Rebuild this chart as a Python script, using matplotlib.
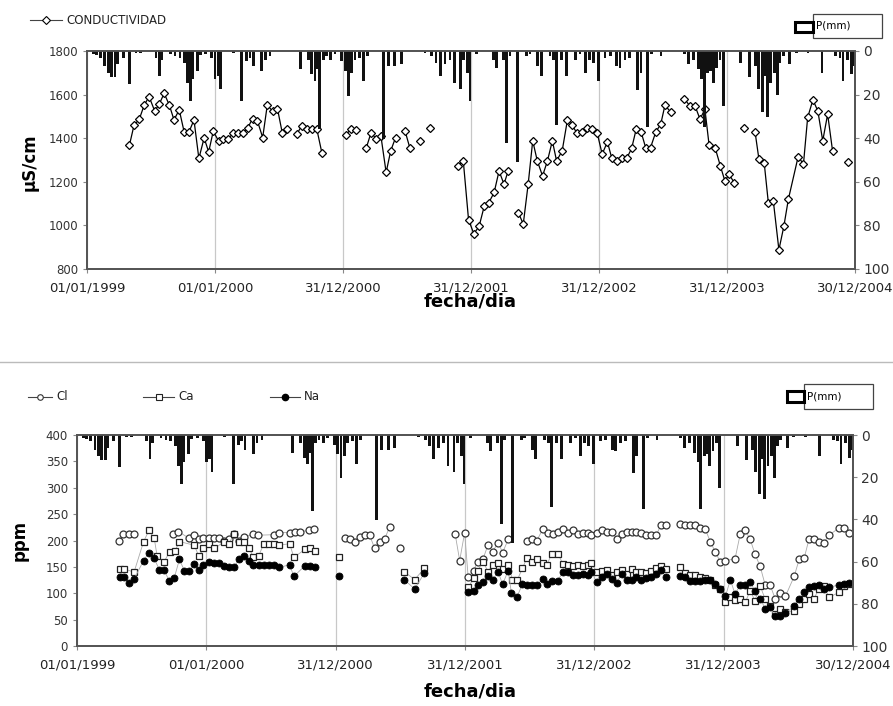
import numpy as np
import matplotlib
matplotlib.use('Agg')
import matplotlib.pyplot as plt
from matplotlib.patches import Rectangle
from matplotlib.lines import Line2D

nan = np.nan

# x axis = days since 01/01/1999
tick_days = [0, 365, 730, 1095, 1460, 1825, 2190]
tick_labels = ['01/01/1999', '01/01/2000', '31/12/2000', '31/12/2001',
               '31/12/2002', '31/12/2003', '30/12/2004']

# conductividad (uS/cm), nan = hueco en la serie
cond_day = [121, 134, 149, 163, 177, 193, 206, 220, 235, 248, 263, 277, 291, 305, 319, 334, 347, 360, 375, 389,
            403, 417, 432, 446, 459, 472, 486, 501, 514, 529, 543, 557, 571, nan,
            598, 612, 627, 641, 655, 670, nan,
            738, 752, 766, nan,
            796, 810, 824, 838, 853, 866, 880, nan,
            907, 921, nan, 950, nan, 978, nan,
            1059, 1073, 1088, 1103, 1118, 1133, 1146, 1161, 1175, 1189, 1201, nan,
            1230, 1244, 1258, 1271, 1284, 1299, 1313, 1327, 1339, 1355, 1370, 1384, 1397, 1412, 1427, 1441,
            1455, 1469, 1484, 1496, 1510, 1525, 1540, 1553, 1566, 1580, 1593, 1607, 1622, 1636, 1648, 1664, nan,
            1703, 1719, 1734, 1748, 1762, 1774, 1791, 1806, 1819, 1831, 1846, nan,
            1874, nan,
            1905, 1916, 1931, 1943, 1957, 1973, 1987, 2000, 2028, 2043, 2055, 2070, 2084, 2098, 2112, 2126, nan,
            2169]
cond_val = [1368, 1459, 1487, 1551, 1591, 1525, 1556, 1606, 1551, 1484, 1530, 1429, 1429, 1484, 1307, 1401, 1337, 1432, 1388, 1398,
            1398, 1423, 1423, 1423, 1449, 1490, 1479, 1403, 1551, 1525, 1536, 1423, 1441, nan,
            1418, 1456, 1444, 1444, 1444, 1331, nan,
            1414, 1441, 1438, nan,
            1353, 1426, 1398, 1411, 1243, 1342, 1403, nan,
            1433, 1353, nan, 1388, nan, 1449, nan,
            1273, 1296, 1026, 962, 995, 1090, 1105, 1151, 1250, 1189, 1250, nan,
            1059, 1006, 1189, 1388, 1296, 1227, 1296, 1388, 1296, 1342, 1484, 1459, 1423, 1429, 1449, 1444,
            1423, 1327, 1383, 1311, 1296, 1311, 1311, 1353, 1441, 1429, 1357, 1357, 1429, 1464, 1551, 1521, nan,
            1582, 1548, 1548, 1487, 1533, 1368, 1357, 1273, 1204, 1235, 1194, nan,
            1449, nan,
            1429, 1304, 1288, 1102, 1113, 888, 995, 1120, 1316, 1281, 1495, 1576, 1525, 1388, 1510, 1342, nan,
            1292]

# precipitacion P(mm)
p_day = [18, 26, 39, 51, 61, 70, 80, 87, 104, 121, 140, 153, 197, 206, 214, 237, 251, 265, 279, 286,
         294, 301, 315, 324, 339, 356, 365, 375, 381, 417, 441, 455, 465, 474, 498, 508, 522, 609, 631, 641,
         650, 657, 664, 674, 683, 695, 707, 726, 736, 745, 755, 764, 777, 788, 799, 845, 859, 878, 897, 964,
         983, 995, 1007, 1021, 1035, 1047, 1064, 1073, 1085, 1092, 1111, 1159, 1168, 1187, 1197, 1206, 1228, 1254, 1263, 1285,
         1295, 1320, 1330, 1339, 1354, 1368, 1392, 1406, 1422, 1432, 1444, 1458, 1477, 1492, 1511, 1520, 1534, 1548, 1570, 1580,
         1599, 1610, 1637, 1703, 1715, 1729, 1743, 1753, 1760, 1770, 1779, 1786, 1795, 1805, 1814, 1864, 1890, 1906, 1914, 1926,
         1933, 1941, 1950, 1960, 1968, 1976, 1985, 2004, 2023, 2056, 2096, 2135, 2147, 2156, 2169, 2180, 2188]
p_mm = [1.5, 2, 3, 7, 10, 12, 12, 6, 3, 15, 1, 1, 3, 11.5, 4, 1.5, 2.3, 3, 5.3, 14.5,
        23, 13, 9, 2, 1.5, 3, 13, 11.5, 17.5, 0.8, 23, 4.6, 3, 7, 9, 4, 2.3, 8.4, 4, 10.7,
        13.7, 8.4, 36, 4, 2.3, 4, 1.5, 4.6, 9, 20.6, 10, 4, 3, 13.7, 2.3, 40.5, 7, 7, 6, 0.8,
        2.3, 5.3, 11.5, 6, 4, 14.5, 17.5, 4, 10, 23, 1.5, 4, 7.6, 4, 42, 2.3, 51, 2.3, 1.5, 7,
        11.5, 2.3, 4, 34, 4, 11.5, 4, 1.5, 10, 4, 5.3, 13.7, 3, 2.3, 7, 7.6, 4, 3, 18, 10,
        35, 1.5, 2.3, 1.5, 6, 4, 8.4, 13, 35, 10, 9, 14.5, 7.6, 4, 25, 5.3, 12, 7, 17.5, 28,
        11.5, 30.5, 14.5, 10, 20.3, 5.3, 2.3, 6, 1, 1, 10, 2.3, 3, 13.7, 4, 10.7, 7]

# Cl (ppm)
cl_day = [118, 131, 146, 161, nan,
          272, 286, 317, 331, 343, 357, 373, 386, 400, 414, 429, 443, 457, 472, 498, 511, 555, 571, 600, 614,
          629, 654, 669, nan,
          757, 771, 785, 799, 814, 826, 840, 854, 868, 882, nan, 912, nan,
          1067, 1080, 1094, 1104, 1119, 1131, 1146, 1160, 1173, 1189, 1201, 1217, nan,
          1269, 1283, 1298, 1314, 1330, 1342, 1357, 1371, 1385, 1400, 1414, 1427, 1441, 1452, 1467,
          1481, 1495, 1509, 1523, 1537, 1551, 1565, 1579, 1593, 1607, 1621, 1635, 1648, 1662, nan,
          1702, 1716, 1731, 1745, 1759, 1773, 1787, 1801, 1815, 1830, 1857, 1872, 1886, 1900, 1913,
          1928, 1942, 1956, 1970, 1984, 1999, 2024, 2038, 2052, 2066, 2080, 2094, 2108, 2122, 2151, 2165, 2179]
cl_val = [200, 213, 213, 213, nan,
          213, 217, 204, 211, 203, 204, 204, 204, 204, 200, 203, 213, 200, 206, 213, 210, 211, 215, 215, 217,
          217, 219, 221, nan,
          204, 203, 197, 206, 210, 210, 185, 197, 203, 225, nan, 185, nan,
          213, 162, 215, 130, 143, 160, 165, 192, 179, 196, 177, 202, nan,
          200, 203, 200, 221, 215, 213, 216, 221, 215, 219, 213, 215, 215, 211, 215,
          219, 217, 217, 203, 213, 216, 216, 217, 215, 211, 211, 210, 230, 229, nan,
          232, 229, 229, 230, 224, 222, 198, 179, 160, 162, 165, 213, 219, 202, 175,
          151, 116, 116, 90, 100, 94, 132, 164, 166, 203, 202, 198, 196, 210, 224, 224, 215]

# Ca (ppm)
ca_day = [120, 134, 161, 188, 203, 218, 226, 245, 262, 277, 289, 331, 344, 357, 373, 388, 414, 429, 443, 457,
          472, 486, 498, 513, 527, 542, 555, 571, 600, 612, 643, 657, 671, nan, 738, nan,
          923, 953, 980, nan,
          1104, 1119, 1131, 1146, 1160, 1173, 1189, 1201, 1217, 1229, 1243, 1257, 1269, 1283, 1298, 1314,
          1326, 1340, 1357, 1371, 1385, 1400, 1414, 1427, 1441, 1452, 1467, 1481, 1495, 1509, 1523, 1537,
          1551, 1565, 1579, 1593, 1607, 1621, 1635, 1648, 1662, nan,
          1702, 1716, 1731, 1745, 1759, 1773, 1787, 1801, 1815, 1830, 1844, 1857, 1872, 1886, 1900, 1913,
          1928, 1942, 1956, 1970, 1984, 1999, 2024, 2038, 2052, 2066, 2080, 2094, 2108, 2122, 2151, 2165, 2179]
ca_val = [146, 146, 140, 198, 219, 204, 171, 159, 179, 181, 198, 191, 170, 185, 194, 185, 197, 194, 213, 198,
          197, 185, 168, 171, 194, 194, 194, 191, 194, 168, 183, 185, 181, nan, 168, nan,
          141, 126, 147, nan,
          111, 128, 143, 160, 141, 154, 157, 146, 154, 126, 126, 147, 166, 160, 164, 157,
          154, 175, 175, 156, 154, 151, 154, 151, 154, 157, 140, 143, 145, 135, 140, 145,
          137, 146, 141, 140, 138, 143, 147, 152, 146, nan,
          149, 138, 135, 135, 130, 128, 126, 116, 108, 83, 92, 88, 90, 83, 105, 86,
          114, 89, 76, 60, 70, 64, 67, 79, 89, 98, 90, 109, 114, 92, 102, 114, 117]

# Na (ppm)
na_day = [120, 134, 148, 161, 188, 203, 218, 232, 245, 260, 274, 289, 303, 317, 331, 344, 357, 373, 386, 400,
          414, 429, 443, 457, 472, 486, 498, 513, 527, 542, 555, 571, 600, 612, 643, 657, 671, nan, 738, nan,
          923, 953, 980, nan,
          1104, 1119, 1131, 1146, 1160, 1173, 1189, 1201, 1217, 1226, 1241, 1257, 1269, 1283, 1298, 1314,
          1326, 1340, 1357, 1371, 1385, 1400, 1414, 1427, 1441, 1452, 1467, 1481, 1495, 1509, 1523, 1537,
          1551, 1565, 1579, 1593, 1607, 1621, 1635, 1648, 1662, nan,
          1702, 1716, 1731, 1745, 1759, 1773, 1787, 1801, 1815, 1830, 1844, 1857, 1872, 1886, 1900, 1913,
          1928, 1942, 1956, 1970, 1984, 1999, 2024, 2038, 2052, 2066, 2080, 2094, 2108, 2122, 2151, 2165, 2179]
na_val = [130, 130, 119, 127, 162, 177, 166, 145, 145, 124, 128, 164, 143, 142, 156, 145, 154, 160, 157, 157,
          151, 149, 149, 165, 171, 162, 154, 154, 154, 154, 154, 149, 154, 132, 152, 151, 149, nan, 132, nan,
          126, 108, 138, nan,
          102, 105, 116, 121, 132, 126, 140, 117, 143, 100, 92, 117, 116, 116, 116, 127,
          117, 124, 124, 140, 140, 135, 135, 137, 135, 140, 121, 130, 137, 127, 119, 137,
          126, 126, 130, 126, 128, 130, 137, 145, 130, nan,
          132, 130, 124, 124, 124, 126, 126, 117, 108, 94, 126, 98, 116, 116, 121, 105,
          90, 71, 73, 56, 57, 62, 76, 90, 102, 111, 113, 116, 108, 111, 116, 117, 119]

W, H = 893, 706
fig = plt.figure(figsize=(W / 100, H / 100), dpi=100)
fig.patch.set_facecolor('white')

def box(l, t, r, b):
    return [l / W, 1 - b / H, (r - l) / W, (b - t) / H]

def setup(ax, axp):
    ax.set_xlim(0, 2190)
    ax.set_xticks(tick_days)
    ax.set_xticklabels(tick_labels, fontsize=9.5, color='#222')
    ax.grid(axis='x', color='#c8c8c8', lw=0.9)
    ax.set_axisbelow(True)
    for s in list(ax.spines.values()) + list(axp.spines.values()):
        s.set_color('#555')
        s.set_linewidth(1.3)
    ax.tick_params(axis='x', length=3, color='#888', pad=6)
    ax.tick_params(axis='y', length=3, color='#888', labelsize=8.5, labelcolor='#333')
    axp.bar(p_day, p_mm, width=8, color='#111', edgecolor='none')
    axp.set_ylim(100, 0)
    axp.set_yticks([0, 20, 40, 60, 80, 100])
    axp.tick_params(axis='y', length=3, color='#888', labelsize=10, labelcolor='#333', pad=3)

# ---- grafico superior: conductividad ----
ax1 = fig.add_axes(box(87, 51, 855, 269))
ax1p = ax1.twinx()
setup(ax1, ax1p)
ax1.set_ylim(800, 1800)
ax1.set_yticks(range(800, 1801, 200))
ax1.plot(cond_day, cond_val, color='black', lw=0.9, marker='D', ms=4.5,
         mfc='white', mec='black', mew=0.9)

# ---- grafico inferior: Cl, Ca, Na ----
ax2 = fig.add_axes(box(77, 435, 853, 646))
ax2p = ax2.twinx()
setup(ax2, ax2p)
ax2.set_ylim(0, 400)
ax2.set_yticks(range(0, 401, 50))
ax2.plot(cl_day, cl_val, color='#aaaaaa', lw=0.6, marker='o', ms=5,
         mfc='white', mec='#333', mew=0.9)
ax2.plot(ca_day, ca_val, color='#aaaaaa', lw=0.6, marker='s', ms=5,
         mfc='white', mec='#222', mew=0.9)
ax2.plot(na_day, na_val, color='#aaaaaa', lw=0.6, marker='o', ms=5,
         mfc='black', mec='black', mew=0.6)

# etiquetas de ejes
fig.text(470 / W, 1 - 302 / H, 'fecha/dia', ha='center', va='center', fontsize=13, fontweight='bold')
fig.text(470 / W, 1 - 692 / H, 'fecha/dia', ha='center', va='center', fontsize=13, fontweight='bold')
fig.text(30 / W, 1 - 162 / H, 'µS/cm', ha='center', va='center', rotation=90, fontsize=12, fontweight='bold')
fig.text(20 / W, 1 - 540 / H, 'ppm', ha='center', va='center', rotation=90, fontsize=12, fontweight='bold')

# separador
fig.add_artist(Line2D([0, 1], [1 - 362 / H, 1 - 362 / H], color='#bbbbbb', lw=1))

# leyendas
def legend_item(x0, x1, y, text, **mk):
    fig.add_artist(Line2D([x0 / W, x1 / W], [1 - y / H, 1 - y / H], color='#444', lw=0.8))
    fig.add_artist(Line2D([(x0 + x1) / 2 / W], [1 - y / H], **mk))
    fig.text((x1 + 4) / W, 1 - y / H, text, va='center', ha='left', fontsize=8.5, color='#222')

legend_item(30, 62, 20, 'CONDUCTIVIDAD', marker='D', ms=4, mfc='white', mec='black', mew=0.8, lw=0)
legend_item(28, 52, 397, 'Cl', marker='o', ms=4, mfc='white', mec='#333', mew=0.8, lw=0)
legend_item(143, 174, 397, 'Ca', marker='s', ms=4, mfc='white', mec='#222', mew=0.8, lw=0)
legend_item(270, 300, 397, 'Na', marker='o', ms=4.5, mfc='black', mec='black', lw=0)

def p_legend(bl, bt, br, bb, pl, pt, pr, pb):
    fig.add_artist(Rectangle((bl / W, 1 - bb / H), (br - bl) / W, (bb - bt) / H,
                             fill=False, ec='#444', lw=0.9))
    fig.add_artist(Rectangle((pl / W, 1 - pb / H), (pr - pl) / W, (pb - pt) / H,
                             fill=False, ec='black', lw=2.2))
    fig.text((bl + 3) / W, 1 - (bt + bb) / 2 / H, 'P(mm)', va='center', ha='left', fontsize=7.5)

p_legend(813, 14, 882, 38, 795, 22, 813, 32)
p_legend(804, 384, 873, 409, 787, 391, 804, 402)

fig.savefig('out.png', dpi=100)
